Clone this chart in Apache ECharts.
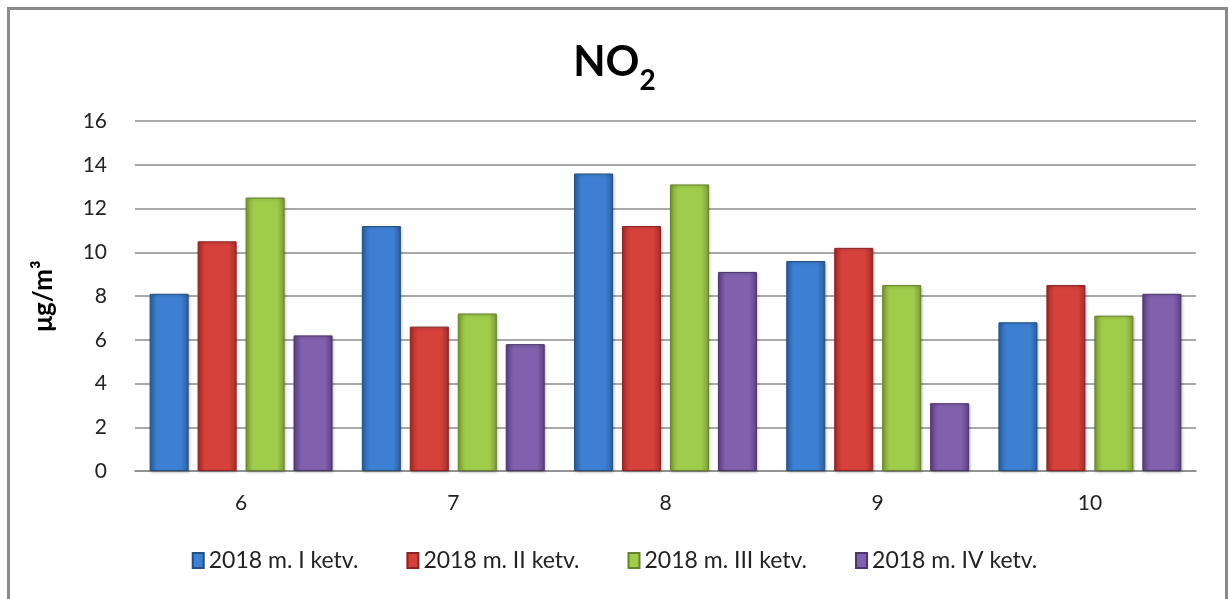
<!DOCTYPE html>
<html>
<head>
<meta charset="utf-8">
<script src="https://cdn.jsdelivr.net/npm/echarts@6/dist/echarts.min.js"></script>
<style>
  html, body { margin: 0; padding: 0; background: #fff; }
  #chart { width: 1229px; height: 599px; }
  .frame {
    position: absolute;
    left: 7px;
    top: 7px;
    width: 1215px;
    height: 600px;
    border: 3px solid #8a8a8a;
    border-bottom: none;
    pointer-events: none;
  }
</style>
</head>
<body>
<div id="chart"></div>
<div class="frame"></div>
<script>
// data
const months = ['6', '7', '8', '9', '10'];
const seriesNames = ['2018 m. I ketv.', '2018 m. II ketv.', '2018 m. III ketv.', '2018 m. IV ketv.'];
const q1 = [8.1, 11.2, 13.6, 9.6, 6.8];
const q2 = [10.5, 6.6, 11.2, 10.2, 8.5];
const q3 = [12.5, 7.2, 13.1, 8.5, 7.1];
const q4 = [6.2, 5.8, 9.1, 3.1, 8.1];

// edge / centre / border per series
const palette = [
  ['#2b5f9f', '#3d80d3', '#24507f'],
  ['#a52b28', '#d6413c', '#8a2422'],
  ['#7d9e36', '#a0cc4c', '#66822c'],
  ['#5e4184', '#8160ad', '#4c346c'],
];

function barColor(p) {
  return new echarts.graphic.LinearGradient(0, 0, 1, 0, [
    { offset: 0, color: p[0] },
    { offset: 0.2, color: p[1] },
    { offset: 0.8, color: p[1] },
    { offset: 1, color: p[0] },
  ]);
}

const font = 'Lato, "Open Sans", sans-serif';
const values = [q1, q2, q3, q4];

const chart = echarts.init(document.getElementById('chart'));
chart.setOption({
  animation: false,
  title: {
    text: '{a|NO}{b|2}',
    left: 'center',
    top: 36,
    textStyle: {
      rich: {
        a: { fontSize: 42, fontWeight: 'bold', color: '#000', fontFamily: font, lineHeight: 54, verticalAlign: 'top' },
        b: { fontSize: 28, fontWeight: 'bold', color: '#000', fontFamily: font, lineHeight: 54, verticalAlign: 'bottom' },
      },
    },
  },
  legend: {
    data: seriesNames,
    bottom: 22,
    left: 'center',
    itemWidth: 11,
    itemHeight: 15,
    itemGap: 48,
    icon: 'rect',
    textStyle: { fontSize: 23, color: '#222', fontFamily: font },
  },
  grid: {
    left: 135,
    right: 33,
    top: 121,
    bottom: 128,
  },
  xAxis: {
    type: 'category',
    data: months,
    axisLine: { lineStyle: { color: '#8c8c8c', width: 1.5 } },
    axisTick: { show: false },
    axisLabel: { fontSize: 21, color: '#222', margin: 22, fontFamily: font },
  },
  yAxis: {
    type: 'value',
    min: 0,
    max: 16,
    interval: 2,
    name: 'μg/m³',
    nameLocation: 'middle',
    nameGap: 78,
    nameTextStyle: { fontSize: 26, fontWeight: 'bold', color: '#000', fontFamily: font },
    axisLine: { show: false },
    axisTick: { show: false },
    axisLabel: { fontSize: 21, color: '#222', margin: 28, fontFamily: font },
    splitLine: { lineStyle: { color: '#8c8c8c', width: 1.5 } },
  },
  series: seriesNames.map((name, i) => ({
    name: name,
    type: 'bar',
    data: values[i],
    barWidth: 39,
    barGap: '23%',
    itemStyle: {
      color: barColor(palette[i]),
      borderColor: palette[i][2],
      borderWidth: 1,
      shadowColor: 'rgba(0,0,0,0.25)',
      shadowBlur: 3,
      shadowOffsetX: 1,
      shadowOffsetY: 1,
    },
  })),
});
</script>
</body>
</html>
